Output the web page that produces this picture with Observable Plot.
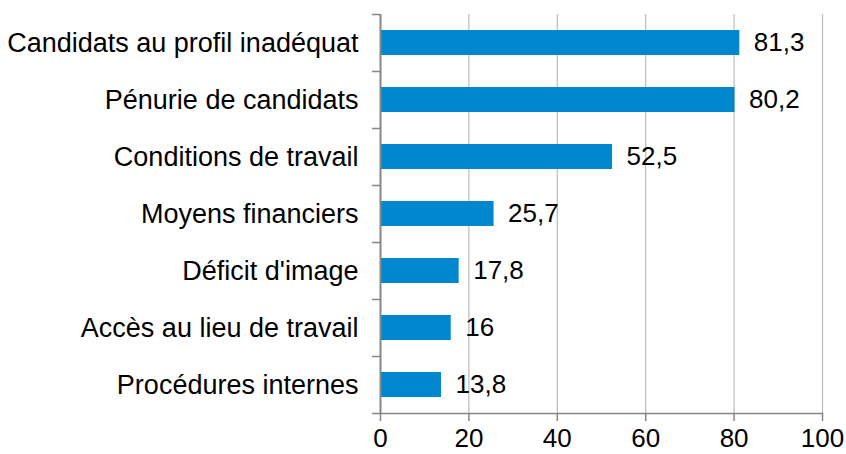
<!DOCTYPE html>
<html>
<head>
<meta charset="utf-8">
<script src="https://cdn.jsdelivr.net/npm/d3@7"></script>
<script src="https://cdn.jsdelivr.net/npm/@observablehq/plot@0.6"></script>
<style>
  html, body { margin: 0; padding: 0; background: #fff; }
</style>
</head>
<body>
<div id="chart"></div>
<script>
const categories = [
  "Candidats au profil inadéquat",
  "Pénurie de candidats",
  "Conditions de travail",
  "Moyens financiers",
  "Déficit d'image",
  "Accès au lieu de travail",
  "Procédures internes"
];
const values = [81.3, 80.2, 52.5, 25.7, 17.8, 16, 13.8];
const xTicks = [0, 20, 40, 60, 80, 100];

const data = categories.map((c, i) => ({cat: c, value: values[i]}));
const fmt = v => String(v).replace(".", ",");

const marginTop = 14, marginBottom = 41, height = 454;
const step = (height - marginTop - marginBottom) / categories.length;

const chart = Plot.plot({
  width: 846,
  height,
  marginLeft: 380,
  marginRight: 24,
  marginTop,
  marginBottom,
  style: {fontFamily: "'Liberation Sans', Arial, sans-serif", fontSize: "26px", color: "#000", background: "#fff"},
  x: {domain: [0, 100], label: null},
  y: {domain: categories, paddingInner: 0.56, paddingOuter: 0.28, label: null},
  marks: [
    Plot.gridX(xTicks.filter(d => d > 0), {stroke: "#bfbfbf", strokeOpacity: 1, strokeWidth: 1.3}),
    Plot.barX(data, {x: "value", y: "cat", fill: "#0087ce"}),
    Plot.text(data, {x: "value", y: "cat", text: d => fmt(d.value), textAnchor: "start", dx: 14, fontSize: 26, fill: "#000"}),
    Plot.frame({anchor: "bottom", stroke: "#868686", strokeWidth: 1.5}),
    Plot.axisX({ticks: xTicks, tickSize: 8, tickPadding: 7, stroke: "#868686", strokeWidth: 1.5, fontSize: 26, label: null, fill: "#000"}),
    Plot.ruleX([0], {stroke: "#868686", strokeWidth: 2}),
    Plot.axisY({tickSize: 0, tickPadding: 22, fontSize: 27, label: null, fill: "#000"}),
    Plot.axisY({tickSize: 8, tickFormat: () => "", dy: -step / 2, stroke: "#868686", strokeWidth: 1.5, label: null}),
    Plot.axisY({ticks: [categories[categories.length - 1]], tickSize: 8, tickFormat: () => "", dy: step / 2, stroke: "#868686", strokeWidth: 1.5, label: null})
  ]
});
document.getElementById("chart").append(chart);
</script>
</body>
</html>
